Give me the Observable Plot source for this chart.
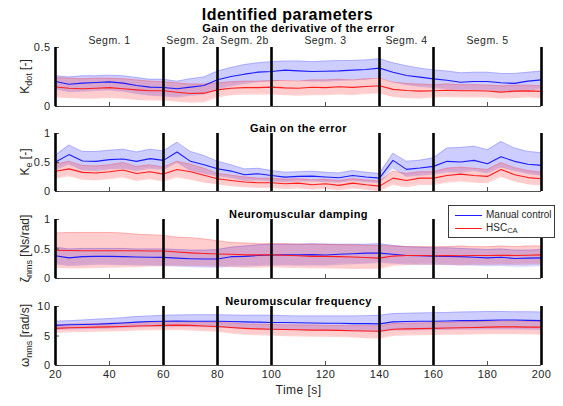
<!DOCTYPE html>
<html>
<head>
<meta charset="utf-8">
<script src="https://cdn.jsdelivr.net/npm/d3@7"></script>
<script src="https://cdn.jsdelivr.net/npm/@observablehq/plot@0.6"></script>
<style>
  body { margin: 0; background: #fff; }
  #fig { position: relative; width: 563px; height: 406px; overflow: hidden;
         font-family: "Liberation Sans", Arial, Helvetica, sans-serif; color: #000; }
  #fig svg { position: absolute; left: 0; overflow: visible; }
  #fig svg text { letter-spacing: 0.45px; }
  #fig svg text.panel-title { letter-spacing: 0.7px; }
  #legend { position: absolute; left: 448px; top: 205px; width: 107px; height: 33px;
            box-sizing: border-box; border: 1px solid #3c3c3c; background: #fff;
            font-size: 10px; color: #262626; z-index: 5; }
  #legend .row { position: absolute; left: 0; height: 12px; line-height: 12px; white-space: nowrap; }
  #legend .sw { position: absolute; left: 6px; top: 6px; width: 27px; height: 1px; }
  #legend .lbl { position: absolute; left: 37px; top: 0; }
  #legend sub { font-size: 7.5px; vertical-align: -2px; line-height: 0; }
</style>
</head>
<body>
<div id="fig"></div>
<script>
// Time base of the identified parameter traces [s]
const time = [20,25,30,35,40,45,50,55,60,65,70,75,80,85,90,95,100,105,110,115,120,125,130,135,140,145,150,155,160,165,170,175,180,185,190,195,200];

// Experiment segments
const segmentBounds = [20, 60, 80, 100, 140, 160, 200];
const segmentNames = ["Segm. 1", "Segm. 2a", "Segm. 2b", "Segm. 3", "Segm. 4", "Segm. 5"];
const xTicks = [20, 40, 60, 80, 100, 120, 140, 160, 180, 200];

// Figure title and series
const figureTitle = "Identified parameters";
const seriesNames = ["Manual control", "HSC"];
const seriesSubs = ["", "CA"];

// Gain on the derivative of the error, K_dot [-]
const kdotManual   = [.212,.189,.198,.203,.209,.198,.178,.164, .161,.150,.164,.178, .226,.254,.274,.291, .297,.308,.302,.297,.299,.302,.308,.314, .325,.291,.263,.249, .234,.223,.206,.212,.212,.201,.196,.215,.226];
const kdotManualHi = [.26,.25,.26,.26,.265,.26,.245,.23, .23,.215,.235,.25, .30,.33,.355,.37, .38,.385,.385,.38,.385,.39,.39,.395, .405,.37,.345,.325, .31,.30,.285,.29,.29,.28,.28,.29,.30];
const kdotManualLo = [.15,.125,.13,.135,.14,.13,.11,.095, .09,.08,.095,.105, .15,.175,.195,.21, .215,.225,.22,.215,.215,.22,.225,.23, .245,.21,.185,.17, .16,.15,.135,.14,.14,.13,.125,.14,.15];
const kdotHsc      = [.165,.155,.150,.155,.160,.150,.141,.133, .133,.121,.110,.113, .141,.155,.160,.160, .164,.158,.155,.163,.160,.167,.162,.170, .176,.145,.135,.130, .133,.138,.134,.133,.131,.122,.130,.132,.128];
const kdotHscHi    = [.245,.24,.235,.24,.24,.235,.225,.215, .21,.20,.19,.19, .20,.21,.215,.215, .22,.22,.215,.225,.225,.23,.225,.235, .24,.205,.195,.19, .185,.19,.185,.185,.18,.175,.18,.18,.175];
const kdotHscLo    = [.08,.075,.07,.07,.075,.07,.06,.055, .055,.045,.035,.04, .08,.10,.105,.105, .105,.10,.095,.10,.10,.105,.10,.11, .115,.085,.075,.07, .08,.085,.08,.08,.08,.07,.075,.08,.075];

// Gain on the error, K_e [-]
const keManual   = [.509,.636,.526,.52,.549,.56,.52,.567, .537,.68,.52,.462, .393,.352,.289,.306, .277,.248,.26,.265,.25,.237,.277,.25, .231,.537,.381,.404, .433,.52,.508,.537,.48,.6,.52,.47,.45];
const keManualHi = [.63,.80,.69,.69,.71,.73,.68,.73, .70,.85,.69,.62, .52,.46,.39,.40, .36,.33,.34,.35,.33,.32,.36,.33, .31,.66,.52,.54, .58,.75,.76,.78,.72,.86,.75,.69,.67];
const keManualLo = [.38,.47,.37,.36,.39,.40,.36,.40, .38,.50,.36,.31, .27,.24,.19,.20, .18,.17,.18,.18,.17,.16,.19,.17, .15,.40,.26,.28, .30,.34,.33,.36,.32,.42,.36,.31,.28];
const keHsc      = [.35,.39,.33,.32,.34,.37,.31,.34, .30,.38,.34,.28, .22,.19,.165,.15, .15,.133,.145,.116,.133,.105,.145,.116, .093,.231,.191,.231, .231,.277,.30,.277,.26,.38,.29,.24,.22];
const keHscHi    = [.47,.52,.45,.44,.46,.50,.43,.46, .42,.52,.47,.40, .31,.28,.25,.23, .23,.21,.22,.20,.21,.19,.22,.20, .18,.35,.31,.34, .34,.40,.42,.40,.38,.50,.41,.36,.33];
const keHscLo    = [.23,.27,.21,.20,.22,.25,.19,.22, .18,.25,.21,.16, .13,.10,.08,.07, .07,.05,.06,.04,.05,.03,.06,.04, .01,.12,.08,.12, .12,.16,.18,.16,.15,.26,.18,.13,.11];

// Neuromuscular damping, zeta_nms [Ns/rad]
const zetaManual   = [.386,.35,.37,.375,.375,.37,.365,.36, .358,.345,.335,.33, .33,.37,.375,.39, .398,.40,.40,.405,.398,.41,.42,.43, .43,.41,.39,.385, .38,.375,.37,.36,.35,.36,.34,.345,.35];
const zetaManualHi = [.53,.50,.51,.51,.51,.51,.50,.50, .50,.49,.48,.48, .49,.53,.55,.57, .58,.58,.58,.59,.58,.58,.58,.58, .59,.56,.54,.53, .52,.52,.51,.50,.49,.50,.48,.48,.49];
const zetaManualLo = [.25,.22,.23,.24,.24,.235,.23,.225, .22,.21,.20,.195, .19,.21,.21,.22, .23,.23,.225,.23,.225,.24,.25,.26, .27,.26,.245,.24, .24,.235,.23,.225,.215,.22,.21,.21,.22];
const zetaHsc      = [.48,.475,.47,.47,.47,.47,.47,.465, .465,.45,.435,.425, .415,.41,.40,.40, .40,.395,.385,.375,.375,.37,.365,.355, .345,.38,.39,.39, .385,.39,.385,.39,.39,.395,.39,.395,.40];
const zetaHscHi    = [.77,.78,.78,.78,.78,.77,.75,.74, .73,.70,.69,.67, .64,.61,.60,.59, .59,.59,.58,.58,.58,.57,.57,.56, .56,.55,.54,.54, .54,.54,.55,.54,.54,.55,.54,.55,.55];
const zetaHscLo    = [.19,.18,.18,.185,.19,.195,.20,.21, .215,.22,.22,.215, .21,.20,.19,.19, .20,.19,.185,.18,.18,.175,.17,.17, .17,.22,.235,.24, .24,.24,.23,.24,.24,.245,.24,.245,.25];

// Neuromuscular frequency, omega_nms [rad/s]
const omegaManual   = [6.8,6.9,6.95,7.0,7.1,7.2,7.35,7.45, 7.5,7.55,7.5,7.5, 7.5,7.45,7.4,7.35, 7.3,7.3,7.25,7.2,7.15,7.15,7.1,7.1, 7.05,7.4,7.45,7.5, 7.5,7.55,7.6,7.6,7.65,7.7,7.7,7.65,7.6];
const omegaManualHi = [7.5,7.6,7.7,7.85,7.95,8.1,8.3,8.4, 8.5,8.55,8.6,8.6, 8.6,8.55,8.5,8.5, 8.5,8.45,8.4,8.4,8.4,8.4,8.4,8.45, 8.5,8.8,8.85,8.9, 8.95,9.0,9.05,9.1,9.15,9.15,9.1,9.1,9.05];
const omegaManualLo = [6.1,6.2,6.25,6.3,6.35,6.45,6.55,6.6, 6.6,6.65,6.6,6.55, 6.5,6.4,6.3,6.2, 6.15,6.1,6.05,6.0,6.0,5.95,5.9,5.85, 5.8,6.0,6.05,6.05, 6.1,6.1,6.15,6.15,6.2,6.2,6.2,6.15,6.1];
const omegaHsc      = [6.3,6.4,6.45,6.5,6.55,6.6,6.7,6.75, 6.8,6.85,6.8,6.7, 6.6,6.45,6.3,6.2, 6.15,6.1,6.05,6.0,6.0,5.95,5.9,5.85, 5.8,6.15,6.2,6.25, 6.3,6.35,6.4,6.45,6.5,6.55,6.55,6.5,6.5];
const omegaHscHi    = [6.9,7.0,7.05,7.1,7.15,7.2,7.3,7.35, 7.4,7.45,7.4,7.35, 7.3,7.2,7.05,7.0, 6.95,6.9,6.85,6.85,6.8,6.8,6.75,6.75, 6.7,7.1,7.15,7.2, 7.25,7.3,7.4,7.45,7.5,7.55,7.55,7.5,7.5];
const omegaHscLo    = [5.6,5.7,5.75,5.8,5.85,5.9,6.0,6.05, 6.05,6.1,6.0,5.9, 5.8,5.5,5.3,5.2, 5.15,5.05,5.0,4.95,4.95,4.9,4.85,4.7, 4.6,5.1,5.15,5.2, 5.25,5.3,5.3,5.35,5.4,5.4,5.4,5.35,5.3];

// Panel titles, y-axis labels (main symbol, subscript, unit) and y scales
const panelTitles = ["Gain on the derivative of the error", "Gain on the error", "Neuromuscular damping", "Neuromuscular frequency"];
const yLabelMain = ["K", "K", "\u03B6", "\u03C9"];
const yLabelSub  = ["dot", "e", "nms", "nms"];
const yLabelUnit = [" [-]", " [-]", " [Ns/rad]", " [rad/s]"];
const yDomains = [[0, 0.5], [0, 1], [0, 1], [0, 10]];
const yTickValues = [[0, 0.5], [0, 0.5, 1], [0, 0.5, 1], [0, 5, 10]];

// Drawing styles
const FONT = "'Liberation Sans', Arial, Helvetica, sans-serif";
const INK = "#262626";
const BLUE = "#1c1cff";
const RED = "#ff1c1c";
const W = 563, ML = 55, MR = 22;

function rows(mean, lo, hi) {
  return time.map((t, i) => ({t, m: mean[i], lo: lo[i], hi: hi[i]}));
}

const panelData = [
  [rows(kdotManual, kdotManualLo, kdotManualHi), rows(kdotHsc, kdotHscLo, kdotHscHi)],
  [rows(keManual, keManualLo, keManualHi), rows(keHsc, keHscLo, keHscHi)],
  [rows(zetaManual, zetaManualLo, zetaManualHi), rows(zetaHsc, zetaHscLo, zetaHscHi)],
  [rows(omegaManual, omegaManualLo, omegaManualHi), rows(omegaHsc, omegaHscLo, omegaHscHi)]
];

// Layout of the four stacked axes: svg top, top margin, frame height, bottom margin
const layout = [
  {top: 0,   mt: 47, fh: 59, mb: 3,  titleDy: -23.5},
  {top: 113, mt: 20, fh: 58, mb: 3,  titleDy: -9},
  {top: 199, mt: 20, fh: 59, mb: 3,  titleDy: -9},
  {top: 286, mt: 20, fh: 59, mb: 40, titleDy: -9}
];

const fig = document.getElementById("fig");
const frameW = W - ML - MR;

layout.forEach((L, k) => {
  const [manual, hsc] = panelData[k];
  const yTicks = yTickValues[k];
  const band = (data, color) => [
    Plot.areaY(data, {x: "t", y1: "lo", y2: "hi", fill: color, fillOpacity: 0.22}),
    Plot.lineY(data, {x: "t", y: "lo", stroke: color, strokeOpacity: 0.28, strokeWidth: 0.7}),
    Plot.lineY(data, {x: "t", y: "hi", stroke: color, strokeOpacity: 0.28, strokeWidth: 0.7})
  ];
  const marks = [
    ...band(manual, BLUE),
    ...band(hsc, RED),
    Plot.lineY(manual, {x: "t", y: "m", stroke: BLUE, strokeWidth: 1.1}),
    Plot.lineY(hsc, {x: "t", y: "m", stroke: RED, strokeWidth: 1.1}),
    // axis line and inward ticks
    Plot.ruleY([0], {stroke: INK, strokeWidth: 0.8}),
    Plot.ruleX(xTicks, {stroke: INK, strokeWidth: 0.8, insetTop: L.fh - 4}),
    Plot.ruleY(yTicks, {stroke: INK, strokeWidth: 0.8, insetRight: frameW - 4}),
    // segment boundaries
    Plot.ruleX(segmentBounds, {stroke: "#000", strokeWidth: 2.6}),
    // y tick labels
    Plot.text(yTicks, {y: d => d, frameAnchor: "left", textAnchor: "end", dx: -5,
                       fontSize: 11, fill: INK}),
    // panel title
    Plot.text([panelTitles[k]], {frameAnchor: "top", dy: L.titleDy, fontSize: 11,
                                 fontWeight: "bold", fill: "#000", className: "panel-title"})
  ];
  if (k === 0) {
    marks.push(Plot.text(segmentNames, {
      x: (d, i) => (segmentBounds[i] + segmentBounds[i + 1]) / 2,
      frameAnchor: "top", dy: -11, fontSize: 10.5, fill: INK
    }));
    // figure title, slightly left of the axes centre
    marks.push(Plot.text([figureTitle], {
      frameAnchor: "top", dx: -11, dy: -38.6, fontSize: 16, fontWeight: "bold", fill: "#000"
    }));
  }
  if (k === layout.length - 1) {
    marks.push(Plot.text(xTicks, {x: d => d, frameAnchor: "bottom", dy: 12.5, fontSize: 11, fill: INK}));
    marks.push(Plot.text(["Time [s]"], {frameAnchor: "bottom", dy: 28.5, fontSize: 12, fill: INK}));
  }

  const svg = Plot.plot({
    width: W,
    height: L.mt + L.fh + L.mb,
    marginLeft: ML, marginRight: MR, marginTop: L.mt, marginBottom: L.mb,
    x: {domain: [20, 200], axis: null},
    y: {domain: yDomains[k], axis: null},
    style: {fontFamily: FONT, background: "transparent", overflow: "visible"},
    marks
  });
  svg.style.top = L.top + "px";
  svg.style.maxWidth = "none";
  // widen the bold panel titles a little
  d3.select(svg).selectAll("text").filter(function() {
    return this.getAttribute("font-weight") === "bold" && this.textContent === panelTitles[k];
  }).style("letter-spacing", "0.7px");

  // rotated y label with subscript
  const label = d3.select(svg).append("text")
    .attr("transform", `translate(28.5,${L.mt + L.fh / 2}) rotate(-90)`)
    .attr("text-anchor", "middle")
    .attr("font-family", FONT)
    .attr("font-size", 12)
    .attr("fill", INK)
    .style("letter-spacing", "0px");
  label.append("tspan").text(yLabelMain[k]);
  label.append("tspan").attr("dy", 3).attr("font-size", 9).text(yLabelSub[k]);
  label.append("tspan").attr("dy", -3).text(yLabelUnit[k]);

  fig.appendChild(svg);
});

// legend
const legend = document.createElement("div");
legend.id = "legend";
[BLUE, RED].forEach((color, i) => {
  const row = document.createElement("div");
  row.className = "row";
  row.style.top = (3 + i * 13.3) + "px";
  row.style.width = "100%";
  const sw = document.createElement("span");
  sw.className = "sw";
  sw.style.background = color;
  const lbl = document.createElement("span");
  lbl.className = "lbl";
  lbl.textContent = seriesNames[i];
  if (seriesSubs[i]) {
    const sub = document.createElement("sub");
    sub.textContent = seriesSubs[i];
    lbl.appendChild(sub);
  }
  row.appendChild(sw);
  row.appendChild(lbl);
  legend.appendChild(row);
});
fig.appendChild(legend);
</script>
</body>
</html>
